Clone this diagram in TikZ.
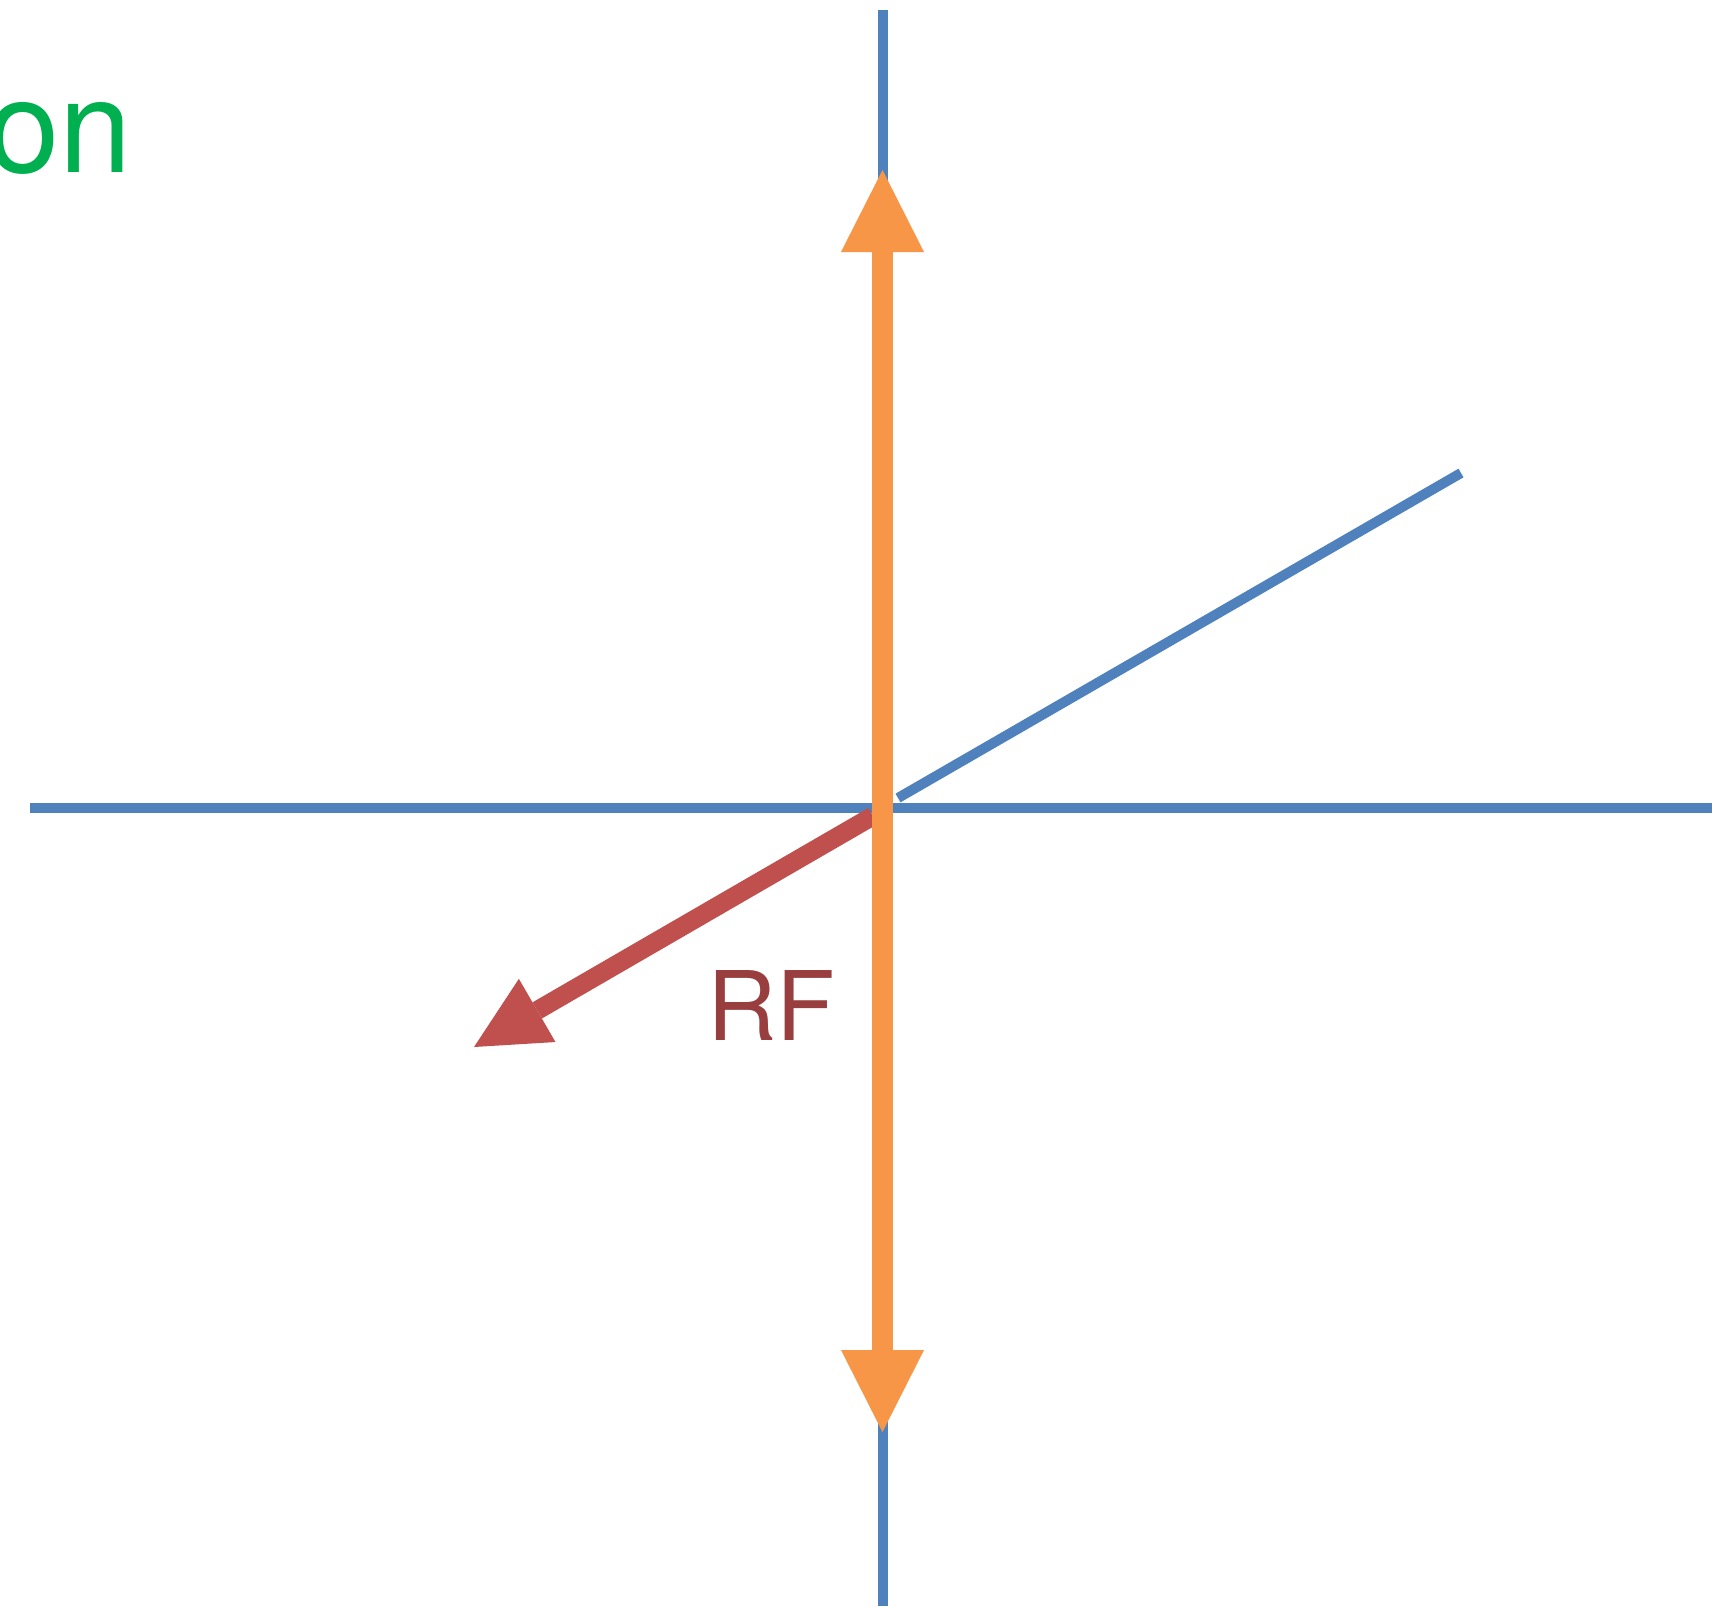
\documentclass[tikz,border=0pt]{standalone}
\usepackage{fontspec}
\setmainfont{TeX Gyre Heros}
\usetikzlibrary{arrows.meta}
\definecolor{axisblue}{RGB}{79,129,189}
\definecolor{arrorange}{RGB}{247,150,70}
\definecolor{arrred}{RGB}{192,80,77}
\definecolor{rftext}{RGB}{153,62,62}
\definecolor{labgreen}{RGB}{0,176,80}
\tikzset{
  axisline/.style={draw=axisblue, line width=7.5pt},
  rfarrow/.style={draw=arrred, line width=14pt, -{Triangle[length=54.75pt,width=54.75pt,line width=0pt]}},
  zarrow/.style={draw=arrorange, line width=15.75pt, {Triangle[length=61.5pt,width=62.25pt,line width=0pt]}-{Triangle[length=61.5pt,width=62.25pt,line width=0pt]}},
}
\begin{document}
\begin{tikzpicture}[x=0.75pt,y=-0.75pt]
\useasboundingbox (0,0) rectangle (1712,1606);
\fill[white] (0,0) rectangle (1712,1606);
% coordinates
\coordinate (vtop) at (883,10);
\coordinate (vbot) at (883,1606);
\coordinate (hl) at (29.5,807.5);
\coordinate (hr) at (1712,807.5);
\coordinate (ds) at (898,798);
\coordinate (de) at (1461,473);
\coordinate (rs) at (873,816);
\coordinate (rt) at (474,1047);
\coordinate (zt) at (882.5,170);
\coordinate (zb) at (882.5,1432);
% axes
\draw[axisline] (vtop) -- (vbot);
\draw[axisline] (hl) -- (hr);
\draw[axisline] (ds) -- (de);
% RF arrow
\draw[rfarrow] (rs) -- (rt);
% orange double arrow
\draw[zarrow] (zb) -- (zt);
% labels
\node[anchor=base west, inner sep=0pt, text=labgreen, font=\fontsize{97.5pt}{100pt}\selectfont] (lab) at (-12.8,172.5) {on};
\node[anchor=base west, inner sep=0pt, text=rftext, font=\fontsize{72pt}{74pt}\selectfont] (rf) at (707.4,1040) {RF};
\end{tikzpicture}
\end{document}
